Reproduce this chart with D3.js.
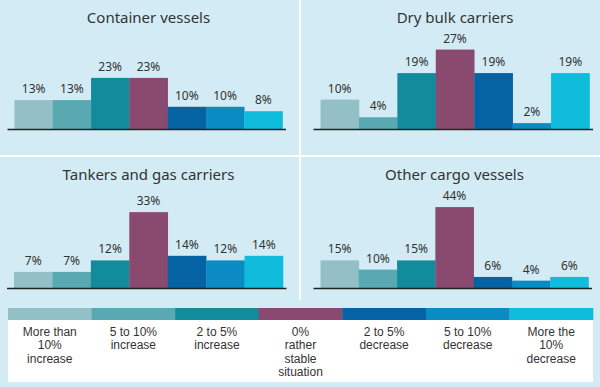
<!DOCTYPE html>
<html><head><meta charset="utf-8">
<script src="https://cdn.jsdelivr.net/npm/d3@7"></script>
<style>
html,body{margin:0;padding:0;background:#d3ebf4;}
svg{display:block;}
text{font-family:"Noto Sans",Lato,sans-serif;fill:#333;}
text.legtxt{font-family:"Liberation Sans",Arial,sans-serif;}
</style></head>
<body><svg id="c" width="600" height="387"></svg>
<script>
const categories = ["More than 10% increase","5 to 10% increase","2 to 5% increase","0% rather stable situation","2 to 5% decrease","5 to 10% decrease","More the 10% decrease"];
const legendLines = [["More than","10%","increase"],["5 to 10%","increase"],["2 to 5%","increase"],["0%","rather","stable","situation"],["2 to 5%","decrease"],["5 to 10%","decrease"],["More the","10%","decrease"]];
const colors = ["#93bfc6","#59a9b3","#128c9c","#8a4a70","#0562a3","#0a8bc4","#10bcdc"];
const panelTitles = ["Container vessels","Dry bulk carriers","Tankers and gas carriers","Other cargo vessels"];
const containerVessels = [13,13,23,23,10,10,8];
const dryBulkCarriers = [10,4,19,27,19,2,19];
const tankersGasCarriers = [7,7,12,33,14,12,14];
const otherCargoVessels = [15,10,15,44,6,4,6];
const panelValues = [containerVessels, dryBulkCarriers, tankersGasCarriers, otherCargoVessels];
const panelScaleMax = [36, 27.2, 34.8, 43.5];

const svg = d3.select("#c");
// separators
svg.append("rect").attr("x",299).attr("y",0).attr("width",2).attr("height",300).attr("fill","#fff").attr("opacity",0.9);
svg.append("rect").attr("x",0).attr("y",155).attr("width",600).attr("height",2).attr("fill","#fff").attr("opacity",0.9);

const layouts = [
  {x0:14.5, x1:282.5, base:129, titleY:23},
  {x0:320.5, x1:589.5, base:129, titleY:23},
  {x0:14, x1:283, base:288, titleY:180},
  {x0:320.5, x1:588.5, base:288, titleY:180}
];
const plotH = 80;
layouts.forEach((L,i)=>{
  const vals = panelValues[i];
  const x = d3.scaleBand().domain(categories).range([L.x0,L.x1]).padding(0);
  const y = d3.scaleLinear().domain([0,panelScaleMax[i]]).range([L.base, L.base-plotH]);
  const g = svg.append("g");
  g.append("text").attr("x",(L.x0+L.x1)/2).attr("y",L.titleY).attr("text-anchor","middle")
    .attr("font-size",15).text(panelTitles[i]);
  g.selectAll("rect.bar").data(vals).join("rect").attr("class","bar")
    .attr("x",(d,j)=>x(categories[j])).attr("width",x.bandwidth()+0.3)
    .attr("y",d=>y(d)).attr("height",d=>L.base-y(d)).attr("fill",(d,j)=>colors[j]);
  g.selectAll("text.val").data(vals).join("text").attr("class","val")
    .attr("x",(d,j)=>x(categories[j])+x.bandwidth()/2).attr("y",d=>y(d)-7)
    .attr("text-anchor","middle").attr("font-size",12).text(d=>d+"%");
  g.append("line").attr("x1",L.x0-7).attr("x2",L.x1+3.5).attr("y1",L.base+0.5).attr("y2",L.base+0.5)
    .attr("stroke","#222").attr("stroke-width",1.3);
});

// legend
const lx = d3.scaleBand().domain(categories).range([8,593]).padding(0);
svg.append("rect").attr("x",8).attr("y",320).attr("width",585).attr("height",62).attr("fill","#fff");
svg.selectAll("rect.leg").data(categories).join("rect").attr("class","leg")
  .attr("x",d=>lx(d)).attr("y",308).attr("width",lx.bandwidth()+0.3).attr("height",12)
  .attr("fill",(d,j)=>colors[j]);
categories.forEach((c,j)=>{
  legendLines[j].forEach((ln,k)=>{
    svg.append("text").attr("class","legtxt").attr("text-anchor","middle").attr("font-size",12)
      .attr("x",lx(c)+lx.bandwidth()/2).attr("y",336+k*13.4).text(ln);
  });
});
</script></body></html>
